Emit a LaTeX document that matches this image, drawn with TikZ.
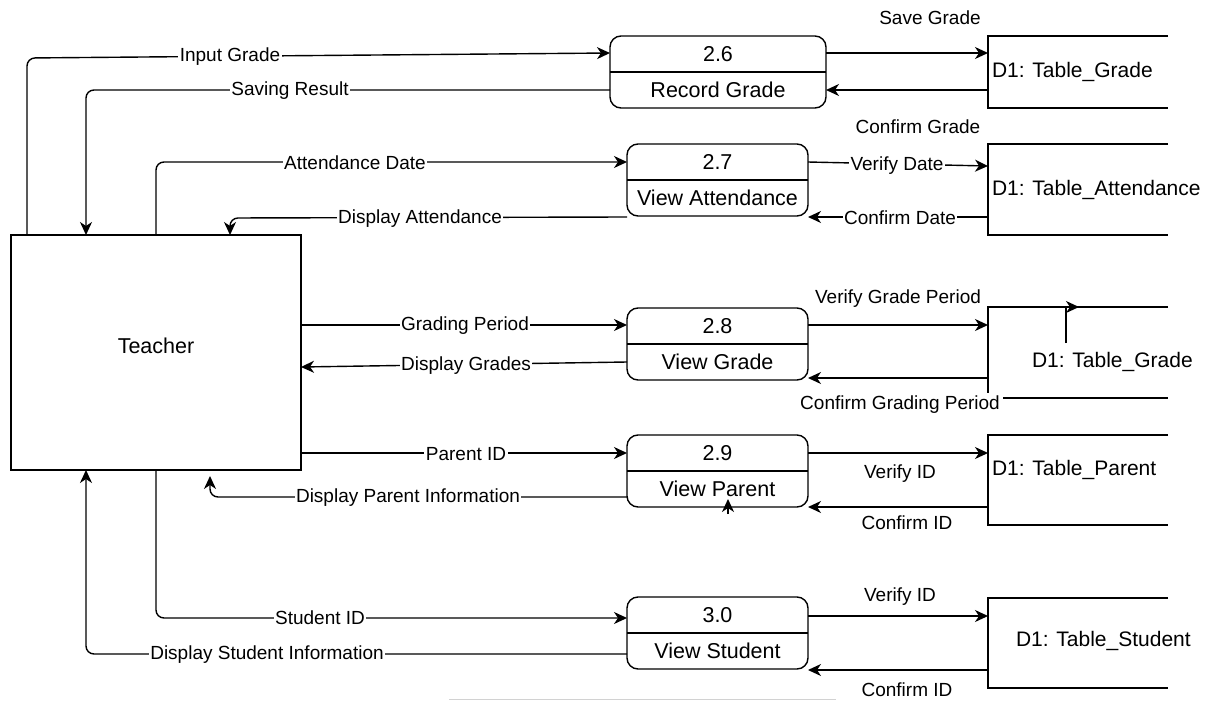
\documentclass[tikz,border=0pt]{standalone}
\usepackage{fontspec}
\setmainfont{Liberation Sans}
\usetikzlibrary{arrows.meta}
\begin{document}
\begin{tikzpicture}[x=1pt,y=-1pt,
  every node/.style={inner sep=0pt, outer sep=0pt},
  ent/.style={draw, line width=1.4pt, minimum width=290pt, minimum height=235pt},
  proc/.style={draw, line width=1.4pt, rounded corners=11pt, minimum height=72pt},
  ptxt/.style={font=\fontsize{21.5}{24}\selectfont},
  store/.style={minimum width=180pt},
  storeline/.style={line width=1.4pt},
  stxt/.style={font=\fontsize{21}{24}\selectfont, anchor=west},
  flow/.style={line width=1.4pt, -{Stealth[length=13pt,width=12pt,inset=4pt]}, rounded corners=8pt},
  lab/.style={fill=white, inner sep=1.5pt, font=\fontsize{19}{22}\selectfont},
  plainlab/.style={inner sep=1pt, font=\fontsize{19}{22}\selectfont},
]
\useasboundingbox (0,0) rectangle (1212,701);

% external entity
\node[ent] (teacher) at (156,352.5) {};
\node[ptxt] (teachertxt) at (156,346) {Teacher};

% processes
\node[proc, minimum width=216pt] (p26) at (718,72) {};
\node[proc, minimum width=181pt] (p27) at (717.5,180) {};
\node[proc, minimum width=181pt] (p28) at (717.5,344) {};
\node[proc, minimum width=181pt] (p29) at (717.5,471) {};
\node[proc, minimum width=181pt] (p30) at (717.5,633) {};
\foreach \p in {p26,p27,p28,p29,p30}
  \draw[line width=1.4pt] (\p.west) -- (\p.east);

\node[ptxt] (n26) at ([yshift=18pt]p26.center) {2.6};
\node[ptxt] (r26) at ([yshift=-18pt]p26.center) {Record Grade};
\node[ptxt] (n27) at ([yshift=18pt]p27.center) {2.7};
\node[ptxt] (r27) at ([yshift=-18pt]p27.center) {View Attendance};
\node[ptxt] (n28) at ([yshift=18pt]p28.center) {2.8};
\node[ptxt] (r28) at ([yshift=-18pt]p28.center) {View Grade};
\node[ptxt] (n29) at ([yshift=18pt]p29.center) {2.9};
\node[ptxt] (r29) at ([yshift=-18pt]p29.center) {View Parent};
\node[ptxt] (n30) at ([yshift=18pt]p30.center) {3.0};
\node[ptxt] (r30) at ([yshift=-18pt]p30.center) {View Student};

% data stores (open on the right)
\node[store, minimum height=72pt] (s1) at (1078,72) {};
\node[store, minimum height=91pt] (s2) at (1078,189.5) {};
\node[store, minimum height=91pt] (s3) at (1078,352.5) {};
\node[store, minimum height=90pt] (s4) at (1078,480) {};
\node[store, minimum height=90pt] (s5) at (1078,643) {};
\foreach \s in {s1,s2,s3,s4,s5}
  \draw[storeline] (\s.north east) -- (\s.north west) -- (\s.south west) -- (\s.south east);

\node[stxt] (t1) at (992,72) {D1: Table\_Grade};
\node[stxt] (t2) at (992,190) {D1: Table\_Attendance};
\node[stxt] (t3) at (1032,362) {D1: Table\_Grade};
\node[stxt] (t4) at (992,470) {D1: Table\_Parent};
\node[stxt] (t5) at (1016,641) {D1: Table\_Student};

% flows between teacher and processes
\draw[flow] (teacher.north -| 27,0) -- (27,58) -- (p26.west |- 0,53);
\draw[flow] (p26.west |- 0,90) -- (86,90) -- (teacher.north -| 86,0);
\draw[flow] (teacher.north -| 156,0) -- (156,162) -- (p27.west |- 0,162);
\draw[flow] (p27.west |- 0,217) -- (230,218) -- (teacher.north -| 230,0);
\draw[flow] (teacher.east |- 0,325) -- (p28.west |- 0,325);
\draw[flow] (p28.west |- 0,362) -- (teacher.east |- 0,367);
\draw[flow] (teacher.east |- 0,453) -- (p29.west |- 0,453);
\draw[flow, shorten >=6pt] (p29.west |- 0,497) -- (210,497) -- (teacher.south -| 210,0);
\draw[flow] (teacher.south -| 156,0) -- (156,618) -- (p30.west |- 0,618);
\draw[flow] (p30.west |- 0,654) -- (86,654) -- (teacher.south -| 86,0);

% flows between processes and stores
\draw[flow] (p26.east |- 0,53) -- (s1.west |- 0,53);
\draw[flow] (s1.west |- 0,90) -- (p26.east |- 0,90);
\draw[flow] (p27.east |- 0,162) -- (s2.west |- 0,166);
\draw[flow] (s2.west |- 0,217) -- (p27.east |- 0,217);
\draw[flow] (p28.east |- 0,325) -- (s3.west |- 0,325);
\draw[flow] (s3.west |- 0,378) -- (p28.east |- 0,378);
\draw[flow] (p29.east |- 0,453) -- (s4.west |- 0,453);
\draw[flow] (s4.west |- 0,507) -- (p29.east |- 0,507);
\draw[flow] (p30.east |- 0,616) -- (s5.west |- 0,616);
\draw[flow] (s5.west |- 0,670) -- (p30.east |- 0,670);

% stray connectors
\coordinate (k1) at (1066,343);
\coordinate (k2) at (1066,307);
\coordinate (k3) at (1079,307);
\draw[flow, rounded corners=0pt] (k1) -- (k2) -- (k3);
\coordinate (k4) at (728,514);
\coordinate (k5) at (728,499);
\draw[flow] (k4) -- (k5);

% flow labels
\node[lab] (l1) at (230,57) {Input Grade};
\node[lab] (l2) at (290,91) {Saving Result};
\node[lab] (l3) at (355,163) {Attendance Date};
\node[lab] (l4) at (420,219) {Display Attendance};
\node[lab] (l5) at (465,326) {Grading Period};
\node[lab] (l6) at (466,366) {Display Grades};
\node[lab] (l7) at (466,454) {Parent ID};
\node[lab] (l8) at (408,498) {Display Parent Information};
\node[lab] (l9) at (320,618) {Student ID};
\node[lab] (l10) at (267,655) {Display Student Information};

\node[plainlab] (l11) at (930,18) {Save Grade};
\node[plainlab] (l12) at (918,127) {Confirm Grade};
\node[lab] (l13) at (897,166) {Verify Date};
\node[lab] (l14) at (900,218) {Confirm Date};
\node[plainlab] (l15) at (898,299) {Verify Grade Period};
\node[lab, inner sep=3pt] (l16) at (900,405) {Confirm Grading Period};
\node[plainlab] (l17) at (900,474) {Verify ID};
\node[plainlab] (l18) at (907,523) {Confirm ID};
\node[plainlab] (l19) at (900,597) {Verify ID};
\node[plainlab] (l20) at (907,690) {Confirm ID};

% faint rule at the lower edge
\draw[gray!35, line width=1.5pt] (449,699.5) -- (836,699.5);
\end{tikzpicture}
\end{document}
